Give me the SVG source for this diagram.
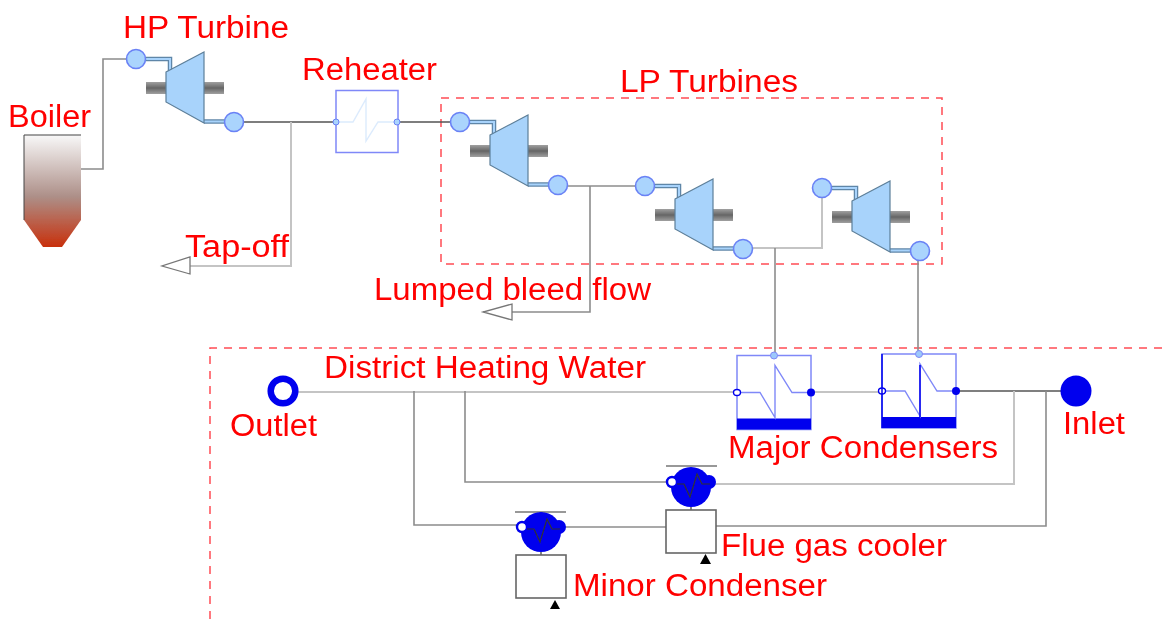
<svg xmlns="http://www.w3.org/2000/svg" width="1162" height="619" viewBox="0 0 1162 619">
<style>
text{font-family:"Liberation Sans",Arial,sans-serif;font-size:31px;fill:#ff0000}
.c{fill:none;stroke:#8c8c8c;stroke-width:1.6}
.k{fill:none;stroke:#555;stroke-width:1.6}
.l{fill:none;stroke:#c4c4c4;stroke-width:2}
.b{fill:none;stroke:#ff4d55;stroke-width:1.5;stroke-dasharray:8 7}
.port{fill:#aad4fd;stroke:#6a82f5;stroke-width:1.6}
.body{fill:#a8d3fb;stroke:#5d7f99;stroke-width:1.2}
.pipe{fill:none;stroke:#5f86a8;stroke-width:4.5}
.pipei{fill:none;stroke:#a8d3fb;stroke-width:2}
.tap{fill:#fff;stroke:#777;stroke-width:1.3}
.hx{fill:#fff;stroke:#7f88f8;stroke-width:1.5}
.blue{fill:#0000ee}
.box{fill:#fff;stroke:#666;stroke-width:1.6}
.thin{fill:none;stroke:#333;stroke-width:1.2}
</style>
<defs>
<filter id="soft" filterUnits="userSpaceOnUse" x="0" y="0" width="1162" height="619"><feGaussianBlur stdDeviation="0.45"/></filter>
<linearGradient id="boil" x1="0" y1="0" x2="0" y2="1"><stop offset="0" stop-color="#f8f8f8"/><stop offset=".55" stop-color="#ad8f88"/><stop offset="1" stop-color="#c8300c"/></linearGradient>
<linearGradient id="shaft" x1="0" y1="0" x2="0" y2="1"><stop offset="0" stop-color="#a0a0a0"/><stop offset=".5" stop-color="#666"/><stop offset="1" stop-color="#a0a0a0"/></linearGradient>
<g id="turb">
<path class="pipe" d="M0 0H34V14"/><path class="pipei" d="M0 0H34V14"/>
<path class="pipe" d="M68 62.500H98"/><path class="pipei" d="M68 62.500H98"/>
<rect x="10" y="23" width="20" height="12" fill="url(#shaft)"/>
<rect x="68" y="23" width="20" height="12" fill="url(#shaft)"/>
<path class="body" d="M30 13L68 -7V64L30 43Z"/>
<circle class="port" r="9.500"/>
<circle class="port" cx="98" cy="63" r="9.500"/>
</g>
<g id="cond">
<rect class="hx" width="74" height="74"/>
<rect class="blue" y="63" width="74" height="11"/>
<path d="M0 37H23L38 62V10L55 37H74" fill="none" stroke="#7f88f8" stroke-width="1.4"/>
<circle cx="37" cy="0" r="3.500" fill="#9cc8fb" stroke="#7f88f8"/>
<ellipse cx="0" cy="37" rx="3.500" ry="3" fill="#fff" stroke="#0000ee" stroke-width="1.4"/>
<circle class="blue" cx="74" cy="37" r="4"/>
</g>
<g id="cooler">
<circle class="blue" cx="25" cy="5" r="20"/>
<circle class="blue" cx="43" cy="0" r="7"/>
<circle cx="6" cy="0" r="5" fill="#fff" stroke="#0000ee" stroke-width="2.400"/>
<path class="thin" d="M11 2H18L24 15L31 -8L36 2H44"/>
<path class="thin" d="M25 25V28"/>
<rect class="box" y="28" width="50" height="43"/>
</g>
</defs>

<g filter="url(#soft)">
<g id="frames">
<rect class="b" x="441" y="98" width="501" height="166"/>
<path class="b" d="M1162 348H210V619"/>
</g>

<g id="connectors">
<path class="c" d="M81 169H103V59H128"/>
<path class="k" d="M244 122H336M399 122H452"/>
<path class="l" d="M291 122V266H190"/>
<path class="c" d="M568 186H636"/>
<path class="c" d="M590 186V312H512"/>
<path class="l" d="M752 248H822V197"/>
<path class="c" d="M775 248V354"/>
<path class="c" d="M918 260V354"/>
<path class="l" d="M296 392H737M811 392H882"/>
<path class="k" d="M957 391H1062"/>
<path class="l" d="M1014 391V484H712"/>
<path class="c" d="M1046 391V526H716"/>
<path class="c" d="M414 391V525H517"/>
<path class="c" d="M465 391V482H667"/>
<path class="c" d="M565 527H667"/>
</g>

<g id="boiler">
<path d="M24 135H81V220L62 247H43L24 220Z" fill="url(#boil)"/>
<path d="M24 220V135H81" fill="none" stroke="#444" stroke-width="1"/>
</g>
<g id="hp-turbine"><use href="#turb" x="136" y="59"/></g>
<g id="reheater">
<rect class="hx" x="336" y="90.500" width="62" height="62"/>
<path d="M336 122H353L366 99V141L378 122H398" fill="none" stroke="#dcebfd" stroke-width="1.400"/>
<circle cx="336" cy="122" r="3" fill="#aad4fd" stroke="#6a82f5"/>
<circle cx="397" cy="122" r="3" fill="#aad4fd" stroke="#6a82f5"/>
</g>
<g id="lp-turbine-1"><use href="#turb" x="460" y="122"/></g>
<g id="lp-turbine-2"><use href="#turb" x="645" y="186"/></g>
<g id="lp-turbine-3"><use href="#turb" x="822" y="188"/></g>
<g id="tap-off"><path class="tap" d="M190 257V274L162 266Z"/></g>
<g id="bleed"><path class="tap" d="M512 304V320L483 312Z"/></g>
<g id="outlet"><circle cx="283" cy="391" r="12.300" fill="#fff" stroke="#0000ee" stroke-width="6.500"/></g>
<g id="inlet"><circle cx="1076" cy="391" r="15.500" class="blue"/></g>
<g id="condenser-1"><use href="#cond" x="737" y="355.500"/></g>
<g id="condenser-2"><use href="#cond" x="882" y="354"/>
<path d="M882 354V428M920 365V417" fill="none" stroke="#0000ee" stroke-width="1.500"/></g>
<g id="flue-gas-cooler"><path class="thin" d="M666 466H717"/><use href="#cooler" x="666" y="482"/>
<path d="M700 564L705.500 554L711 564Z" fill="#000"/></g>
<g id="minor-condenser"><path class="thin" d="M515 512H566"/><use href="#cooler" x="516" y="527"/>
<path d="M550 609L555 600L560 609Z" fill="#000"/></g>

<g id="labels">
<text x="123" y="38" textLength="166" lengthAdjust="spacingAndGlyphs">HP Turbine</text>
<text x="8" y="127" textLength="83" lengthAdjust="spacingAndGlyphs">Boiler</text>
<text x="302" y="80" textLength="135" lengthAdjust="spacingAndGlyphs">Reheater</text>
<text x="620" y="92" textLength="178" lengthAdjust="spacingAndGlyphs">LP Turbines</text>
<text x="185" y="257" textLength="104" lengthAdjust="spacingAndGlyphs">Tap-off</text>
<text x="374" y="300" textLength="277" lengthAdjust="spacingAndGlyphs">Lumped bleed flow</text>
<text x="324" y="378" textLength="322" lengthAdjust="spacingAndGlyphs">District Heating Water</text>
<text x="230" y="436" textLength="87" lengthAdjust="spacingAndGlyphs">Outlet</text>
<text x="1063" y="434" textLength="62" lengthAdjust="spacingAndGlyphs">Inlet</text>
<text x="728" y="458" textLength="270" lengthAdjust="spacingAndGlyphs">Major Condensers</text>
<text x="721" y="556" textLength="226" lengthAdjust="spacingAndGlyphs">Flue gas cooler</text>
<text x="573" y="596" textLength="254" lengthAdjust="spacingAndGlyphs">Minor Condenser</text>
</g>
</g>
</svg>
